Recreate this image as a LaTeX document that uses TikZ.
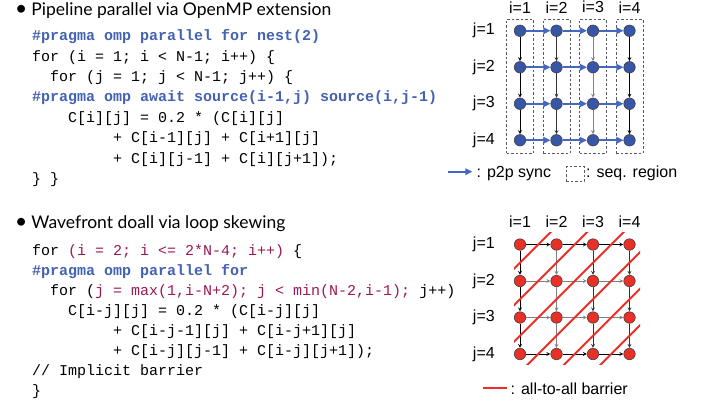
\documentclass[tikz,border=0pt]{standalone}
\usepackage{fontspec}
\setmainfont{Liberation Sans}
\setmonofont{Liberation Mono}
\newfontfamily\titlefont{Lato}
\usetikzlibrary{matrix,positioning,fit,arrows.meta}
\definecolor{ompblue}{RGB}{68,98,178}
\definecolor{bndred}{RGB}{153,25,85}
\definecolor{dotblue}{RGB}{56,86,168}
\definecolor{syncblue}{RGB}{68,104,190}
\definecolor{dotred}{RGB}{232,48,38}
\definecolor{barred}{RGB}{236,46,40}
\newcommand{\omp}[1]{\textcolor{ompblue}{\bfseries #1}}
\newcommand{\bnd}[1]{\textcolor{bndred}{#1}}
\newcommand{\bigbullet}{\makebox[16.3pt][l]{\fontsize{21}{21}\selectfont\textbullet}}

\tikzset{
  pdot/.style={circle,draw=black!75,fill=dotblue,minimum size=11.5pt,inner sep=0pt,line width=0.6pt},
  wdot/.style={circle,draw=black!75,fill=dotred,minimum size=11.5pt,inner sep=0pt,line width=0.6pt},
  lbl/.style={inner sep=0pt,font=\fontsize{16}{18}\selectfont},
  code/.style={inner sep=0pt,align=left,anchor=north west},
  title/.style={inner sep=0pt,anchor=base west,font=\titlefont\fontsize{17.5}{20}\selectfont},
  sync/.style={-{Triangle[length=7pt,width=6.5pt]},syncblue,line width=1.8pt},
  seqbox/.style={draw=black!65,dash pattern=on 2.5pt off 2pt,line width=0.7pt},
  barrier/.style={barred,line width=1.8pt}
}

\begin{document}
\begin{tikzpicture}[x=1pt,y=-1pt]
\useasboundingbox (0,0) rectangle (706,400);

% pipeline part
\node[title] (t1) at (15,15) {\bigbullet Pipeline parallel via OpenMP extension};
\node[code,font=\ttfamily\fontsize{15}{20.4}\selectfont] (c1) at (32,29.5) {%
\omp{\#pragma omp parallel for nest(2)}\\
for (i = 1; i < N-1; i++) \{\\
~~for (j = 1; j < N-1; j++) \{\\
\omp{\#pragma omp await source(i-1,j) source(i,j-1)}\\
~~~~C[i][j] = 0.2 * (C[i][j]\\
~~~~~~~~~+ C[i-1][j] + C[i+1][j]\\
~~~~~~~~~+ C[i][j-1] + C[i][j+1]);\\
\} \}};

\matrix (pipe) [matrix of nodes,nodes in empty cells,nodes={pdot},row sep=24.4pt,column sep=24.4pt] at (574.75,85.5)
{
	 & & & \\
	 & & & \\
	 & & & \\
	 & & & \\};
\foreach \c in {1,...,4}{
  \node[lbl,above=11.5pt of pipe-1-\c] {i=\c};
  \node[lbl,left=19pt of pipe-\c-1] {j=\c};
  \node[seqbox,fit=(pipe-1-\c)(pipe-4-\c),inner xsep=7.3pt,inner ysep=6.3pt,yshift=-0.8pt] {};
}
\foreach \c/\col in {1/black,2/black!80,3/black!50,4/black}
  \path[-stealth,\col,line width=0.8pt]
  (pipe-1-\c) edge (pipe-2-\c)
  (pipe-2-\c) edge (pipe-3-\c)
  (pipe-3-\c) edge (pipe-4-\c);
\foreach \r in {1,...,4}
  \path[sync]
  (pipe-\r-1) edge (pipe-\r-2)
  (pipe-\r-2) edge (pipe-\r-3)
  (pipe-\r-3) edge (pipe-\r-4);

% legend
\coordinate (syncA) at (448.3,171.7);
\coordinate (syncB) at (472.3,171.7);
\draw[sync] (syncA) -- (syncB);
\node[lbl,anchor=base west] (syncT) at (476.5,177.7) {: p2p sync};
\node[seqbox,minimum width=18pt,minimum height=15pt,inner sep=0pt] (seqL) at (575,174.2) {};
\node[lbl,anchor=base west] (seqT) at (586,177.7) {: seq. region};

% wavefront part
\node[title] (t2) at (15,228.3) {\bigbullet Wavefront doall via loop skewing};
\node[code,font=\ttfamily\fontsize{15}{20}\selectfont] (c2) at (32,244) {%
for \bnd{(i = 2; i <= 2*N-4; i++)} \{\\
\omp{\#pragma omp parallel for}\\
~~for (\bnd{j = max(1,i-N+2); j < min(N-2,i-1);} j++)\\
~~~~C[i-j][j] = 0.2 * (C[i-j][j]\\
~~~~~~~~~+ C[i-j-1][j] + C[i-j+1][j]\\
~~~~~~~~~+ C[i-j][j-1] + C[i-j][j+1]);\\
// Implicit barrier\\
\}};

\matrix (wave) [matrix of nodes,nodes in empty cells,nodes={wdot},row sep=24.4pt,column sep=24.4pt] at (574.75,299.25)
{
	 & & & \\
	 & & & \\
	 & & & \\
	 & & & \\};
\foreach \c in {1,...,4}{
  \node[lbl,above=11pt of wave-1-\c] {i=\c};
  \node[lbl,left=19pt of wave-\c-1] {j=\c};
}
\foreach \c/\col in {1/black,2/black!50,3/black!80,4/black!80}
  \path[-stealth,\col,line width=0.8pt]
  (wave-1-\c) edge (wave-2-\c)
  (wave-2-\c) edge (wave-3-\c)
  (wave-3-\c) edge (wave-4-\c);
\foreach \r/\col in {1/black,2/black!50,3/black!50,4/black}
  \path[-stealth,\col,line width=0.8pt]
  (wave-\r-1) edge (wave-\r-2)
  (wave-\r-2) edge (wave-\r-3)
  (wave-\r-3) edge (wave-\r-4);
\begin{scope}
  \clip (514,232.5) rectangle (640.1,364.4);
  \foreach \k in {0,...,5}
    \draw[barrier] (480,302.75+36.5*\k) -- (680,102.75+36.5*\k);
\end{scope}

% legend
\coordinate (barA) at (483.3,388.3);
\coordinate (barB) at (506.7,388.3);
\draw[barrier] (barA) -- (barB);
\node[lbl,anchor=base west] (barT) at (510.5,394) {: all-to-all barrier};

\end{tikzpicture}
\end{document}
